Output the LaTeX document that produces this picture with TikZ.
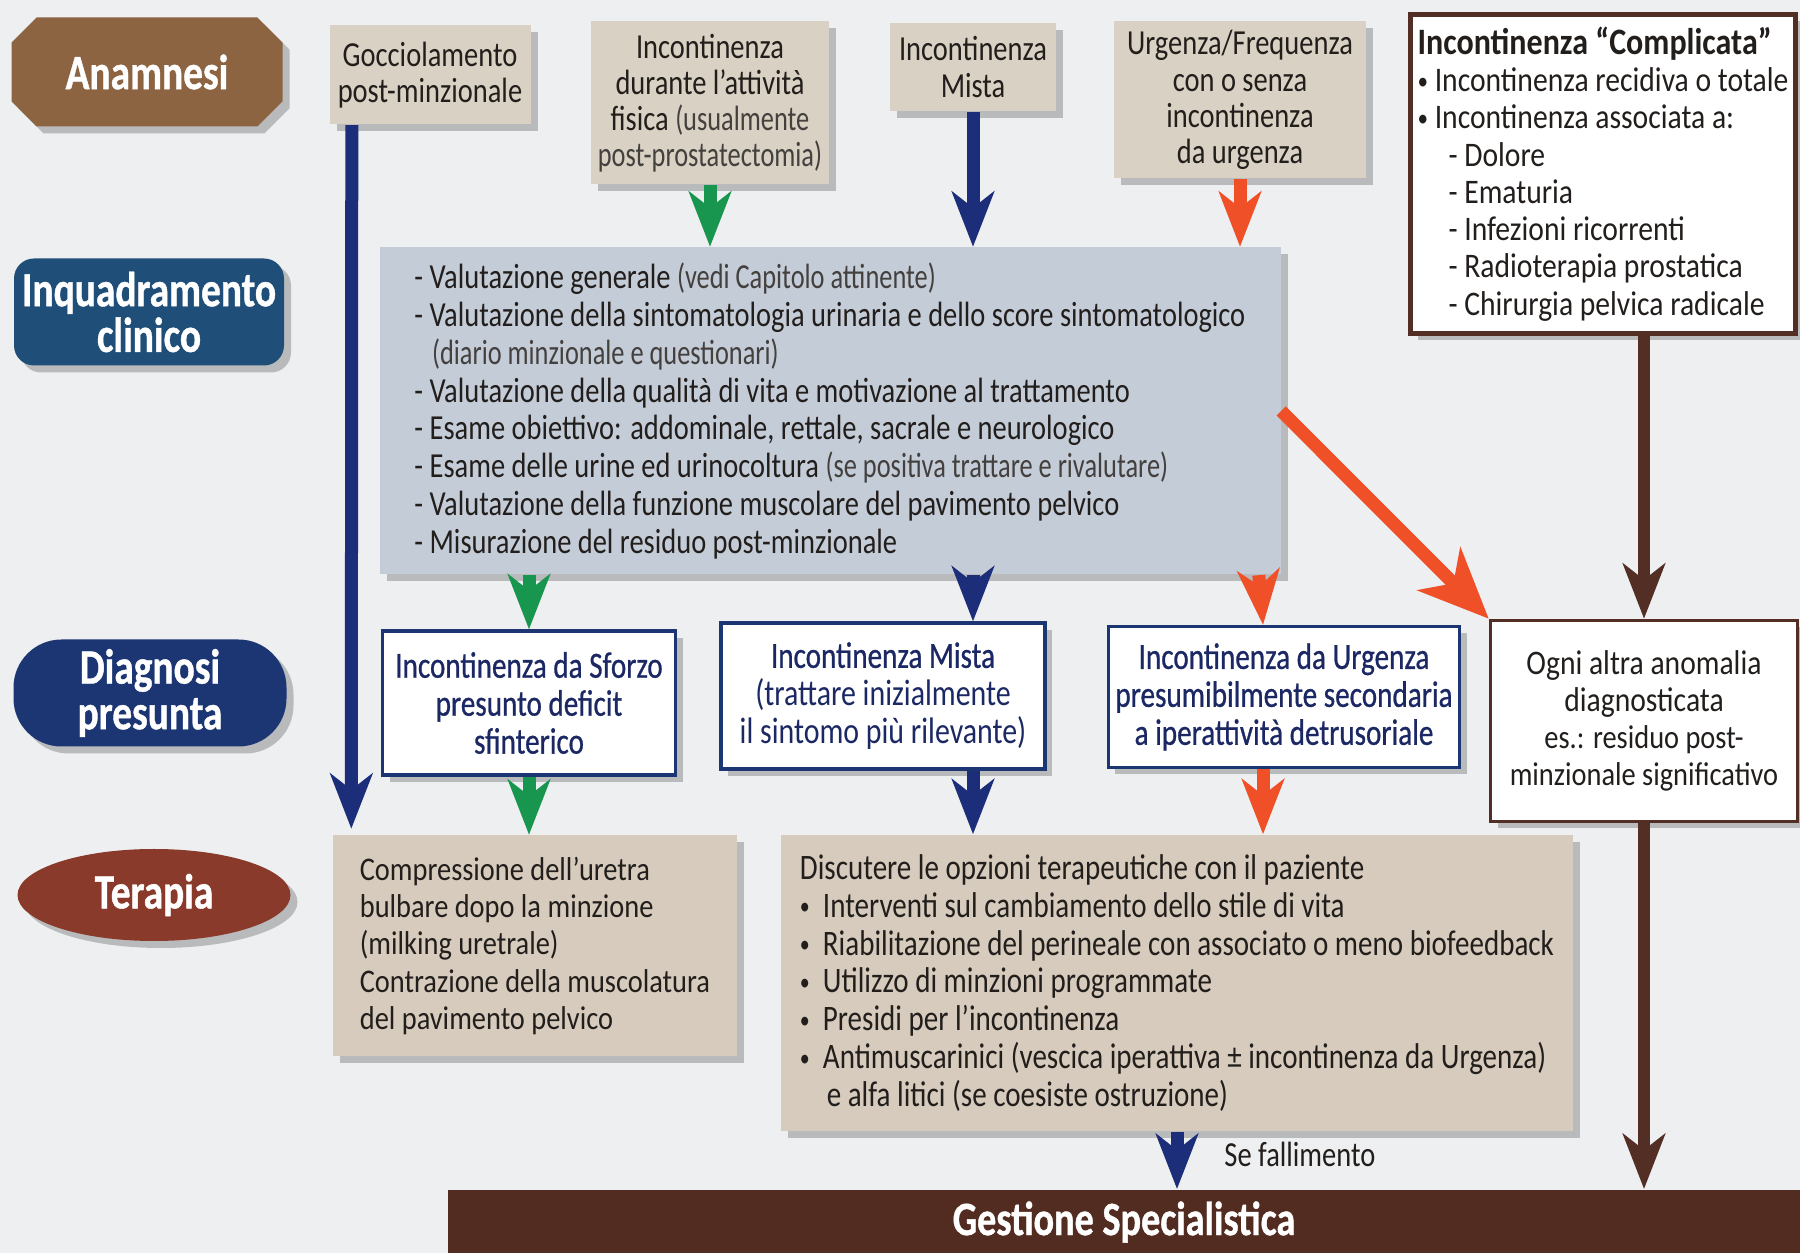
\documentclass[tikz,border=0pt]{standalone}
\usepackage{fontspec}
\setmainfont{Carlito}
\newfontfamily\condf{Carlito}[FakeStretch=0.81]
\newfontfamily\condl{Carlito}[FakeStretch=0.75]
\newfontfamily\semif{Carlito}[FakeStretch=0.79,FakeBold=0.7]
\newfontfamily\normf{Carlito}[FakeStretch=0.86]
\newfontfamily\heavyf{Carlito}[FakeStretch=0.8,FakeBold=0.8]
\usepackage{tikz}
\usetikzlibrary{positioning,arrows.meta,calc,shapes.geometric,shapes.misc,shadows}
\definecolor{paper}{RGB}{238,239,241}
\definecolor{tanbox}{RGB}{217,209,195}
\definecolor{tanther}{RGB}{214,203,188}
\definecolor{steelbox}{RGB}{196,204,216}
\definecolor{brownlab}{RGB}{140,100,66}
\definecolor{bluelab}{RGB}{31,78,121}
\definecolor{navylab}{RGB}{27,54,115}
\definecolor{terlab}{RGB}{138,58,42}
\definecolor{gestbrown}{RGB}{82,44,32}
\definecolor{arrnavy}{RGB}{28,46,122}
\definecolor{arrgreen}{RGB}{24,150,80}
\definecolor{arrred}{RGB}{240,80,40}
\definecolor{arrbrown}{RGB}{82,46,36}
\definecolor{navytext}{RGB}{27,40,100}
\definecolor{ink}{RGB}{34,30,28}
\newcommand{\lite}[1]{{\condl\color{ink!85}#1}}
\newcommand{\indt}{\hspace*{0.9em}}
\newcommand{\bul}{\raisebox{0.12ex}{\fontsize{7}{7}\selectfont•}\ }
\tikzset{
  shd/.style ={drop shadow={shadow xshift=0.7mm,shadow yshift=-0.7mm,opacity=0.22,fill=black}},
  lab/.style ={text=white,font=\heavyf\bfseries\fontsize{14}{13}\selectfont,align=center,inner sep=1pt,shd},
  tbox/.style={fill=tanbox,text=ink,align=center,font=\condf\fontsize{10}{10.3}\selectfont,inner sep=2pt,shd},
  ibox/.style={fill=steelbox,text=ink,align=left,font=\condf\fontsize{10}{10.8}\selectfont,inner sep=2pt,shd},
  dbox/.style={draw=navylab,line width=0.9pt,fill=white,text=navytext,align=center,font=\semif\fontsize{10.5}{10.8}\selectfont,inner sep=2pt,shd},
  obox/.style={draw=arrbrown,line width=1pt,fill=white,text=ink,align=center,font=\normf\fontsize{9.4}{10.6}\selectfont,inner sep=2pt,shd},
  thbox/.style={fill=tanther,text=ink,align=left,inner sep=2pt,shd},
  arN/.style ={-{Stealth[length=5.5mm,width=4.2mm,inset=1.6mm]},draw=arrnavy,fill=arrnavy,line width=1.3mm},
  arG/.style ={arN,draw=arrgreen,fill=arrgreen},
  arR/.style ={arN,draw=arrred,fill=arrred},
  arB/.style ={arN,draw=arrbrown,fill=arrbrown,line width=1.2mm},
}

\begin{document}
\begin{tikzpicture}[x=0.1mm,y=-0.1mm]
\fill[paper] (0,0) rectangle (1800,1253);
\useasboundingbox (0,0) rectangle (1800,1253);

\node[lab,chamfered rectangle,chamfered rectangle xsep=1.4mm,fill=brownlab,minimum width=27.1mm,minimum height=10.9mm] (anam) at (147,72) {Anamnesi};
\node[lab,fill=bluelab,rounded corners=2mm,minimum width=27mm,minimum height=10.7mm] (inqlab) at (149,312) {Inquadramento\\clinico};
\node[lab,fill=navylab,rounded corners=4.8mm,minimum width=27.3mm,minimum height=10.7mm] (diaglab) at (150,693) {Diagnosi\\presunta};
\node[lab,ellipse,fill=terlab,minimum width=27.3mm,minimum height=9.2mm,inner sep=0pt] (terlab) at (154,895) {Terapia};

\node[tbox,minimum width=20.1mm,minimum height=9.9mm] (gocc) at (430,75) {Gocciolamento\\post-minzionale};
\node[tbox,minimum width=23.8mm,minimum height=16.3mm] (fis) at (710,103) {Incontinenza\\durante l’attività\\fisica \lite{(usualmente}\\\lite{post-prostatectomia)}};
\node[tbox,minimum width=16.6mm,minimum height=8.8mm] (mista) at (973,67) {Incontinenza\\Mista};
\node[tbox,minimum width=25.2mm,minimum height=15.7mm] (urg) at (1240,100) {Urgenza/Frequenza\\con o senza\\incontinenza\\da urgenza};
\node[obox,align=left,line width=1.3pt,font=\normf\fontsize{9.8}{10.6}\selectfont,minimum width=38.1mm,minimum height=31.9mm] (compl) at (1603,174)
  {{\bfseries\fontsize{10.6}{10.6}\selectfont Incontinenza “Complicata”}\\\bul Incontinenza recidiva o totale\\\bul Incontinenza associata a:\\\indt- Dolore\\\indt- Ematuria\\\indt- Infezioni ricorrenti\\\indt- Radioterapia prostatica\\\indt- Chirurgia pelvica radicale};

\node[ibox,minimum width=90.1mm,minimum height=32.7mm] (inq) at (830,411)
  {- Valutazione generale \lite{(vedi Capitolo attinente)}\\
   - Valutazione della sintomatologia urinaria e dello score sintomatologico\\
   \hspace*{0.5em}\lite{(diario minzionale e questionari)}\\
   - Valutazione della qualità di vita e motivazione al trattamento\\
   - Esame obiettivo: addominale, rettale, sacrale e neurologico\\
   - Esame delle urine ed urinocoltura \lite{(se positiva trattare e rivalutare)}\\
   - Valutazione della funzione muscolare del pavimento pelvico\\
   - Misurazione del residuo post-minzionale};

\node[dbox,minimum width=29.3mm,minimum height=14.4mm] (dsf) at (529,703) {Incontinenza da Sforzo\\presunto deficit\\sfinterico};
\node[dbox,minimum width=32.4mm,minimum height=14.6mm] (dmix) at (883,696) {Incontinenza Mista\\{\condf(trattare inizialmente}\\{\condf il sintomo più rilevante)}};
\node[dbox,minimum width=34.5mm,minimum height=14.1mm] (durg) at (1284,697) {Incontinenza da Urgenza\\presumibilmente secondaria\\a iperattività detrusoriale};
\node[obox,minimum width=30.7mm,minimum height=20.1mm] (dother) at (1644,721) {{\fontsize{9.8}{10.6}\selectfont Ogni altra anomalia}\\{\fontsize{9.8}{10.6}\selectfont diagnosticata}\\es.: residuo post-\\minzionale significativo};

\node[thbox,font=\normf\fontsize{9.4}{10.6}\selectfont,minimum width=40.4mm,minimum height=22.1mm] (tl) at (535,946)
  {Compressione dell’uretra\\bulbare dopo la minzione\\(milking uretrale)\\Contrazione della muscolatura\\del pavimento pelvico};
\node[thbox,font=\condf\fontsize{10.2}{10.8}\selectfont,minimum width=79.2mm,minimum height=29.6mm] (tr) at (1177,983)
  {Discutere le opzioni terapeutiche con il paziente\\
   \bul\ Interventi sul cambiamento dello stile di vita\\
   \bul\ Riabilitazione del perineale con associato o meno biofeedback\\
   \bul\ Utilizzo di minzioni programmate\\
   \bul\ Presidi per l’incontinenza\\
   \bul\ Antimuscarinici (vescica iperattiva ± incontinenza da Urgenza)\\
   \hspace*{0.75em}e alfa litici (se coesiste ostruzione)};

\node[fill=gestbrown,text=white,font=\heavyf\bfseries\fontsize{13.6}{13}\selectfont,minimum width=135.2mm,minimum height=6.3mm] (gest) at (1124,1222) {Gestione Specialistica};
\node[font=\condf\fontsize{10}{10}\selectfont,text=ink,anchor=west] (fail) at ($(tr.south)+(35,23)$) {Se fallimento};

\draw[arN] ([xshift=2.3mm]gocc.south west) -- ([xshift=1.9mm,yshift=0.6mm]tl.north west);
\draw[arG] (fis) -- (fis |- inq.north); \draw[arN] (mista) -- (mista |- inq.north); \draw[arR] (urg) -- (urg |- inq.north);
\draw[arG] (inq.south -| dsf) -- (dsf); \draw[arN] (inq.south -| mista) -- (dmix.north -| mista);
\draw[arR] (inq.south -| durg.north west) ++(152,0) -- ([xshift=-2.1mm]durg.north);
\draw[arR,-{Stealth[length=7mm,width=6mm,inset=2mm]}] (inq.east) -- (dother.north west);
\draw[arB] (compl.south -| dother) -- (dother);
\draw[arG] (dsf) -- (tl.north -| dsf); \draw[arN] (dmix.south -| mista) -- (tr.north -| mista);
\draw[arR] ([xshift=-2.1mm]durg.south) -- ([xshift=-2.1mm]durg.south |- tr.north);
\draw[arB] (dother) -- (dother |- gest.north); \draw[arN] (tr) -- (tr |- gest.north);
\end{tikzpicture}
\end{document}
